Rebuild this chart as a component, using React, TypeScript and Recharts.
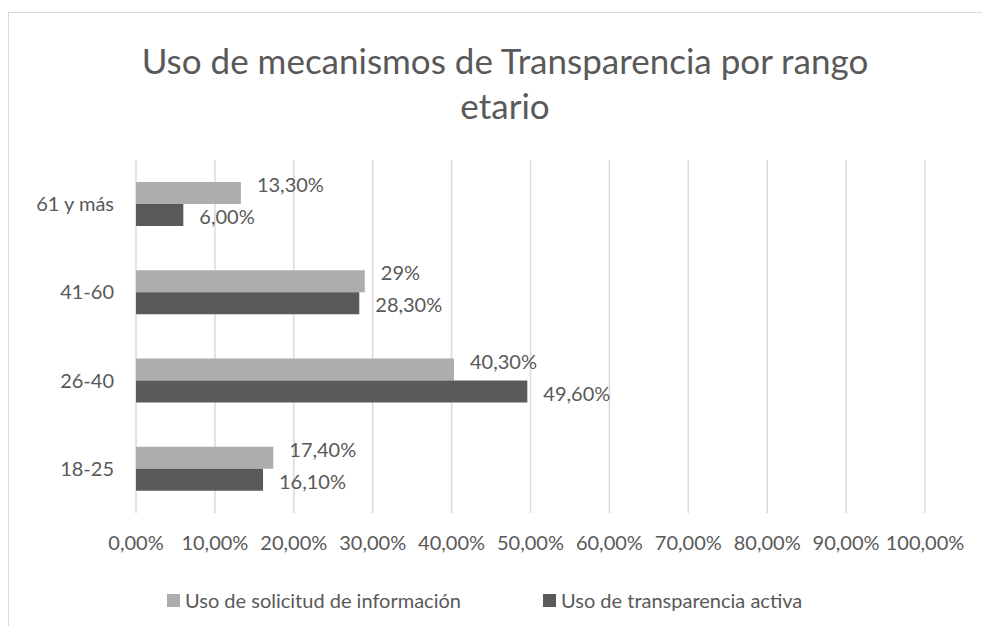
import React from 'react';
import { BarChart, Bar, XAxis, YAxis, CartesianGrid, LabelList } from 'recharts';

const categories = ['61 y más', '41-60', '26-40', '18-25'];
const solicitud = [13.3, 29, 40.3, 17.4];
const transparencia = [6.0, 28.3, 49.6, 16.1];
const solicitudLabels = ['13,30%', '29%', '40,30%', '17,40%'];
const transparenciaLabels = ['6,00%', '28,30%', '49,60%', '16,10%'];
const xTicks = [0, 10, 20, 30, 40, 50, 60, 70, 80, 90, 100];
const seriesNames = ['Uso de solicitud de información', 'Uso de transparencia activa'];

const data = categories.map((name, i) => ({
  name,
  solicitud: solicitud[i],
  transparencia: transparencia[i],
}));

const FONT = 'Lato, "Open Sans", sans-serif';
const TEXT = '#595959';
const LIGHT = '#ADADAD';
const DARK = '#5A5A5A';

// label next to bar end, nudged up/down per series like Excel does
const makeLabel = (labels: string[], dy: number) => (props: any) => {
  const { x, y, width, height, index } = props;
  return (
    <text
      x={Number(x) + Number(width) + 16}
      y={Number(y) + Number(height) / 2 + dy}
      dy="0.35em"
      fill={TEXT}
      fontSize={20}
      fontFamily={FONT}
    >
      {labels[index]}
    </text>
  );
};

const legendItem = (label: string, color: string, left: number) => (
  <div
    key={label}
    style={{
      position: 'absolute',
      left,
      top: 588,
      display: 'flex',
      alignItems: 'center',
      fontFamily: FONT,
      fontSize: 20,
      lineHeight: '24px',
      color: TEXT,
      whiteSpace: 'nowrap',
    }}
  >
    <span style={{ width: 13, height: 13, background: color, display: 'inline-block', marginRight: 5 }} />
    <span>{label}</span>
  </div>
);

export default function App() {
  return (
    <div style={{ position: 'fixed', left: 0, top: 0, width: 982, height: 626, overflow: 'hidden', background: '#fff' }}>
      <div style={{ position: 'absolute', left: 8, top: 12, width: 1100, height: 800, border: '1px solid #d9d9d9' }} />
      <div
        style={{
          position: 'absolute',
          left: 0,
          top: 38,
          width: 1010,
          textAlign: 'center',
          fontFamily: FONT,
          fontSize: 35,
          lineHeight: '45px',
          color: TEXT,
        }}
      >
        Uso de mecanismos de Transparencia por rango
        <br />
        etario
      </div>
      <div style={{ position: 'absolute', left: 0, top: 0 }}>
        <BarChart
          width={982}
          height={626}
          data={data}
          layout="vertical"
          margin={{ top: 160, right: 57, bottom: 83, left: 0 }}
          barGap={0}
        >
          <CartesianGrid horizontal={false} stroke="#d9d9d9" strokeWidth={1.5} />
          <XAxis
            type="number"
            domain={[0, 100]}
            ticks={xTicks}
            interval={0}
            height={30}
            tickFormatter={(v: number) => `${v.toFixed(2).replace('.', ',')}%`}
            axisLine={false}
            tickLine={false}
            tickMargin={17}
            tick={{ fill: TEXT, fontSize: 20, fontFamily: FONT }}
          />
          <YAxis
            type="category"
            dataKey="name"
            width={136}
            axisLine={false}
            tickLine={false}
            tickMargin={16}
            tick={{ fill: TEXT, fontSize: 20, fontFamily: FONT }}
          />
          <Bar dataKey="solicitud" name={seriesNames[0]} fill={LIGHT} barSize={22} isAnimationActive={false}>
            <LabelList dataKey="solicitud" content={makeLabel(solicitudLabels, -8)} />
          </Bar>
          <Bar dataKey="transparencia" name={seriesNames[1]} fill={DARK} barSize={22} isAnimationActive={false}>
            <LabelList dataKey="transparencia" content={makeLabel(transparenciaLabels, 2)} />
          </Bar>
        </BarChart>
      </div>
      {legendItem(seriesNames[0], LIGHT, 167)}
      {legendItem(seriesNames[1], DARK, 543)}
    </div>
  );
}
